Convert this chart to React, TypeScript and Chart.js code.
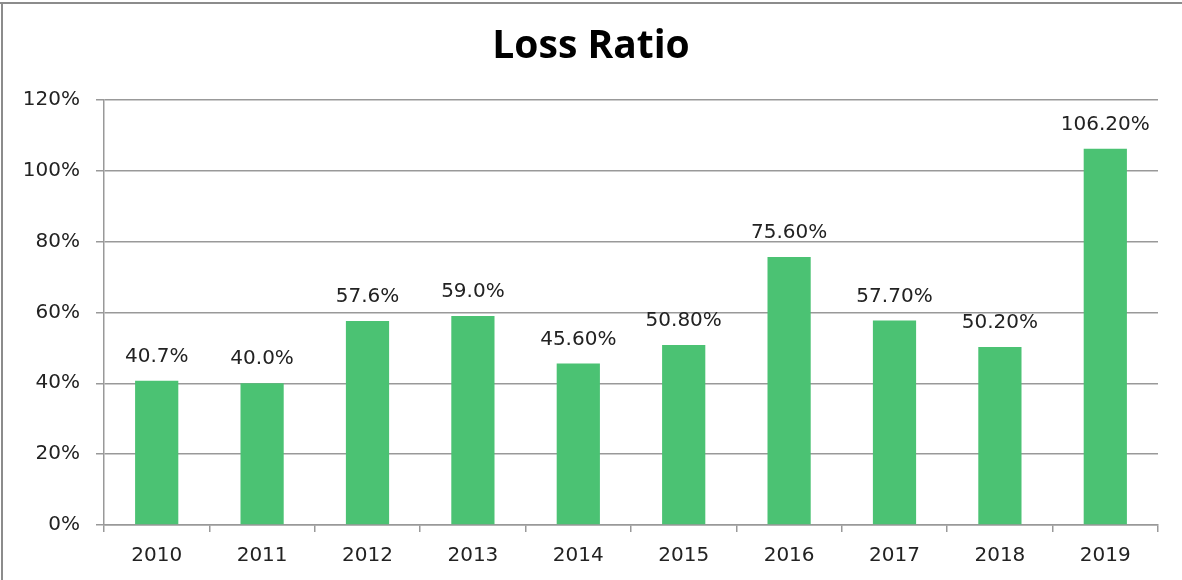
import React, { useEffect, useRef } from "react";
import { Chart, registerables } from "chart.js";

Chart.register(...registerables);

const categories = ["2010", "2011", "2012", "2013", "2014", "2015", "2016", "2017", "2018", "2019"];
const lossRatio = [0.407, 0.4, 0.576, 0.59, 0.456, 0.508, 0.756, 0.577, 0.502, 1.062];
const valueLabels = ["40.7%", "40.0%", "57.6%", "59.0%", "45.60%", "50.80%", "75.60%", "57.70%", "50.20%", "106.20%"];
const yTicks = [0, 0.2, 0.4, 0.6, 0.8, 1.0, 1.2];

const TICK_FONT = "'DejaVu Sans', Verdana, sans-serif";

const valueLabelPlugin = {
  id: "valueLabels",
  afterDatasetsDraw(chart: any) {
    const ctx = chart.ctx;
    const meta = chart.getDatasetMeta(0);
    ctx.save();
    ctx.font = `20px ${TICK_FONT}`;
    ctx.fillStyle = "#222";
    ctx.textAlign = "center";
    ctx.textBaseline = "middle";
    meta.data.forEach((bar: any, i: number) => {
      ctx.fillText(valueLabels[i], bar.x, bar.y - 24);
    });
    ctx.restore();
  },
};

export default function App() {
  const ref = useRef<HTMLCanvasElement | null>(null);
  useEffect(() => {
    if (!ref.current) return;
    const chart = new Chart(ref.current, {
      type: "bar",
      data: {
        labels: categories,
        datasets: [
          {
            label: "Loss Ratio",
            data: lossRatio,
            backgroundColor: "#4bc273",
            borderWidth: 0,
            categoryPercentage: 1,
            barPercentage: 0.41,
          },
        ],
      },
      options: {
        responsive: false,
        animation: false,
        layout: { padding: 0 },
        plugins: {
          legend: { display: false },
          tooltip: { enabled: false },
          title: {
            display: true,
            text: "Loss Ratio",
            color: "#000",
            font: { family: "'Open Sans', Lato, sans-serif", size: 39, weight: "bold", lineHeight: 1.2 },
            padding: { top: 23, bottom: 30 },
          },
        },
        scales: {
          x: {
            afterFit(scale: any) {
              scale.height = 55;
            },
            grid: {
              display: true,
              drawOnChartArea: false,
              drawTicks: true,
              tickLength: 7,
              color: "#999",
              lineWidth: 1.5,
              offset: true,
            },
            border: { display: true, color: "#999", width: 1.5 },
            ticks: {
              color: "#222",
              font: { family: TICK_FONT, size: 20 },
              padding: 12,
              maxRotation: 0,
            },
          },
          y: {
            min: 0,
            max: 1.2,
            afterFit(scale: any) {
              scale.width = 104;
            },
            afterBuildTicks(scale: any) {
              scale.ticks = yTicks.map((v) => ({ value: v }));
            },
            grid: {
              color: "#999",
              lineWidth: 1.5,
              tickLength: 8,
            },
            border: { display: true, color: "#999", width: 1.5 },
            ticks: {
              color: "#222",
              font: { family: TICK_FONT, size: 20 },
              padding: 16,
              callback: (v: any) => `${Math.round(Number(v) * 100)}%`,
            },
          },
          yRight: {
            position: "right",
            display: true,
            min: 0,
            max: 1.2,
            afterFit(scale: any) {
              scale.width = 24;
            },
            grid: { display: false, drawOnChartArea: false },
            border: { display: false },
            ticks: { display: false },
          },
        },
      },
      plugins: [valueLabelPlugin],
    });
    return () => chart.destroy();
  }, []);

  return (
    <div style={{ position: "absolute", left: 0, top: 0, width: 1182, height: 580, background: "#fff" }}>
      <canvas ref={ref} width={1182} height={580} style={{ position: "absolute", left: 0, top: 0 }} />
      <div style={{ position: "absolute", left: 0, top: 2, width: 1182, height: 2, background: "#8c8c8c" }} />
      <div style={{ position: "absolute", left: 1, top: 2, width: 2, height: 578, background: "#8c8c8c" }} />
    </div>
  );
}
